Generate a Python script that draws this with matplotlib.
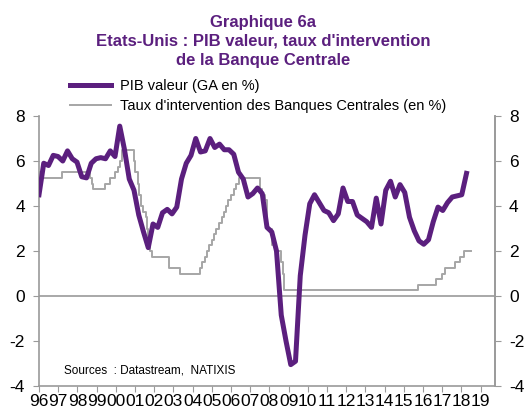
import matplotlib
matplotlib.use("Agg")
import matplotlib.pyplot as plt
import numpy as np

plt.rcParams['font.family'] = ['Liberation Sans', 'DejaVu Sans']
plt.rcParams['axes.unicode_minus'] = False

# PIB valeur, glissement annuel en %, trimestriel a partir de 1996T1
pib = [4.5, 5.9, 5.8, 6.25, 6.2, 6.0, 6.45, 6.1, 5.95, 5.3,
       5.25, 5.9, 6.1, 6.15, 6.1, 6.45, 6.2, 7.55, 6.5, 5.2,
       4.7, 3.6, 2.85, 2.15, 3.2, 3.05, 3.7, 3.85, 3.65, 3.95,
       5.2, 5.9, 6.25, 7.0, 6.4, 6.45, 7.0, 6.6, 6.75, 6.5,
       6.5, 6.3, 5.5, 5.2, 4.4, 4.55, 4.8, 4.55, 3.05, 2.85,
       2.0, -0.85, -2.0, -3.05, -2.9, 0.9, 2.7, 4.1, 4.5, 4.15,
       3.8, 3.7, 3.35, 3.65, 4.8, 4.2, 4.2, 3.6, 3.45, 3.3,
       3.05, 4.35, 3.2, 4.7, 5.1, 4.4, 4.95, 4.6, 3.5, 2.9,
       2.45, 2.3, 2.5, 3.3, 3.95, 3.8, 4.15, 4.4, 4.45, 4.5,
       5.45]
pib_t = 1996 + np.arange(len(pib)) * 0.2474

# taux d'intervention : dates de changement (annee) et niveau
taux_t = [1996.00, 1996.05, 1997.20, 1998.67, 1998.74, 1998.82, 1999.45, 1999.71,
          1999.97, 2000.10, 2000.20, 2000.32, 2000.93, 2001.00, 2001.14, 2001.22,
          2001.30, 2001.41, 2001.55, 2001.62, 2001.70, 2001.78, 2001.86, 2002.75,
          2003.36, 2004.40, 2004.51, 2004.62, 2004.75, 2004.85, 2004.99, 2005.12,
          2005.24, 2005.40, 2005.51, 2005.62, 2005.74, 2005.85, 2005.98, 2006.14,
          2006.26, 2006.40, 2007.53, 2007.62, 2007.79, 2007.86, 2007.90, 2008.14,
          2008.31, 2008.60, 2008.69, 2008.78, 2015.74, 2016.68, 2016.99, 2017.16,
          2017.68, 2017.94, 2018.15, 2018.50]
taux = [5.50, 5.25, 5.50, 5.25, 5.00, 4.75, 5.00, 5.25,
        5.50, 5.75, 6.00, 6.50, 6.00, 5.50, 5.00, 4.50,
        4.00, 3.75, 3.50, 3.00, 2.50, 2.00, 1.75, 1.25,
        1.00, 1.25, 1.50, 1.75, 2.00, 2.25, 2.50, 2.75,
        3.00, 3.25, 3.50, 3.75, 4.00, 4.25, 4.50, 4.75,
        5.00, 5.25, 4.75, 4.50, 4.25, 3.50, 3.00, 2.25,
        2.00, 1.50, 1.00, 0.25, 0.50, 0.75, 1.00, 1.25,
        1.50, 1.75, 2.00, 2.00]

years = list(range(1996, 2020))
year_labels = ['%02d' % (y % 100) for y in years]

purple = '#5B1F7E'
grey = '#A6A6A6'
axis_grey = '#9A9A9A'

fig = plt.figure(figsize=(5.26, 4.11), dpi=100)
ax = fig.add_axes([39/526, 1-386/411, (495-39)/526, (386-116)/411])

ax.axhline(0, color=axis_grey, lw=1.2, zorder=1)
ax.plot(pib_t, pib, color=purple, lw=3.6, solid_joinstyle='round',
        label='PIB valeur (GA en %)', zorder=3)
ax.plot(taux_t, taux, color=grey, lw=1.4, drawstyle='steps-post',
        label="Taux d'intervention des Banques Centrales (en %)", zorder=2)

ax.set_xlim(1996, 2019.75)
ax.set_ylim(-4, 8)
ax.set_yticks(range(-4, 9, 2))
ax.set_xticks(years)
ax.set_xticklabels(year_labels, fontsize=12.5)
ax.tick_params(axis='y', labelsize=12.5, length=4, color=axis_grey, direction='out', pad=6)
ax.tick_params(axis='x', length=4, color=axis_grey, direction='out', pad=1.5)

for s in ['top']:
    ax.spines[s].set_visible(False)
for s in ['left', 'right', 'bottom']:
    ax.spines[s].set_color(axis_grey)
    ax.spines[s].set_linewidth(1.2)

ax2 = ax.twinx()
ax2.set_ylim(-4, 8)
ax2.set_yticks(range(-4, 9, 2))
ax2.tick_params(axis='y', labelsize=12.5, length=4, color=axis_grey, direction='out', pad=6)
for s in ['top', 'left', 'bottom']:
    ax2.spines[s].set_visible(False)
ax2.spines['right'].set_color(axis_grey)
ax2.spines['right'].set_linewidth(1.2)

fig.text(0.5, 1-22/411, 'Graphique 6a', ha='center', va='center',
         color=purple, fontsize=12, fontweight='bold')
fig.text(0.5, 1-41/411, "Etats-Unis : PIB valeur, taux d'intervention", ha='center',
         va='center', color=purple, fontsize=12, fontweight='bold')
fig.text(0.5, 1-61/411, 'de la Banque Centrale', ha='center', va='center',
         color=purple, fontsize=12, fontweight='bold')

leg = fig.legend(loc='upper left', bbox_to_anchor=(70/526, 1-79/411), frameon=False,
                 fontsize=10.5, handlelength=2.8, handletextpad=0.6, labelspacing=0.42,
                 borderaxespad=0, borderpad=0)

ax.text(1996 + (64-39)/19.2, -3.3, 'Sources  : Datastream,  NATIXIS', fontsize=8.5,
        va='center', ha='left')

fig.savefig('out.png', dpi=100)
